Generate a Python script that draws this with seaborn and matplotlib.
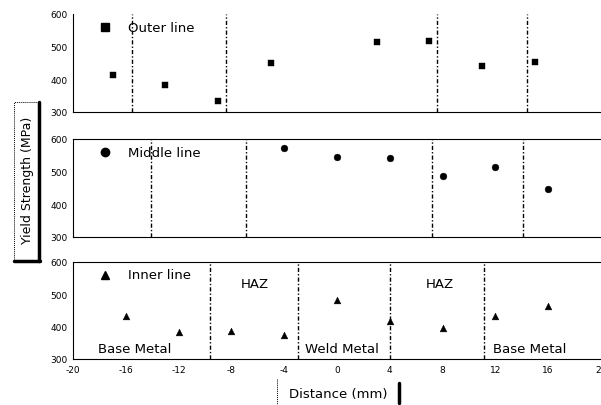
import matplotlib
matplotlib.use("Agg")
import matplotlib.pyplot as plt
import seaborn as sns
import pandas as pd
from matplotlib.lines import Line2D

sns.set_theme(style="white")
plt.rcParams['font.family'] = ['DejaVu Sans']
plt.rcParams['text.color'] = 'black'
plt.rcParams['xtick.color'] = 'black'
plt.rcParams['ytick.color'] = 'black'

# Data
outer_x = [-17, -13, -9, -5, 3, 7, 11, 15]
outer_y = [413, 383, 334, 450, 514, 517, 441, 453]
middle_x = [-4, 0, 4, 8, 12, 16]
middle_y = [572, 545, 542, 487, 514, 447]
inner_x = [-16, -12, -8, -4, 0, 4, 8, 12, 16]
inner_y = [432, 385, 388, 373, 482, 418, 397, 433, 464]

outer_bounds = [-15.5, -8.4, 7.6, 14.4]
middle_bounds = [-14.1, -6.9, 7.2, 14.1]
inner_bounds = [-9.6, -2.95, 4.0, 11.1]

series_names = ["Outer line", "Middle line", "Inner line"]
markers = ["s", "o", "^"]
x_ticks = [-20, -16, -12, -8, -4, 0, 4, 8, 12, 16, 20]
y_ticks = [300, 400, 500, 600]

region_labels = ["Base Metal", "HAZ", "Weld Metal", "HAZ", "Base Metal"]
region_x = [-15.3, -6.2, 0.4, 7.8, 14.6]
region_y = [334, 532, 334, 532, 334]

fig = plt.figure(figsize=(6.01, 4.06), dpi=100)
L, W = 73/601, 528/601
rects = [(L, 1-113/406, W, 98/406), (L, 1-238/406, W, 98/406), (L, 1-360/406, W, 97/406)]
xs = [outer_x, middle_x, inner_x]
ys = [outer_y, middle_y, inner_y]
bounds = [outer_bounds, middle_bounds, inner_bounds]

for i, r in enumerate(rects):
    ax = fig.add_axes(r)
    df = pd.DataFrame({"x": xs[i], "y": ys[i]})
    sns.scatterplot(data=df, x="x", y="y", marker=markers[i], color="black",
                    s=24, edgecolor="black", linewidth=0.3, ax=ax, legend=False)
    for b in bounds[i]:
        ax.axvline(b, color="black", lw=1.0, ls=(0, (3, 1.5, 1, 1.5)))
    ax.set_xlim(-20, 20)
    ax.set_ylim(300, 600)
    ax.set_yticks(y_ticks)
    ax.set_yticklabels([str(v) for v in y_ticks], fontsize=6.5)
    ax.set_xticks(x_ticks)
    ax.set_xlabel("")
    ax.set_ylabel("")
    ax.tick_params(axis="both", direction="out", length=2, width=0.6, pad=2, colors="black")
    if i < 2:
        ax.tick_params(axis="x", labelbottom=False)
    else:
        ax.set_xticklabels([str(v) for v in x_ticks], fontsize=6.5)
    for name, sp in ax.spines.items():
        sp.set_linestyle((0, (1, 1)))
        sp.set_linewidth(0.8)
        sp.set_color("black")
    ax.spines["right"].set_visible(False)
    if i == 0:
        ax.spines["top"].set_visible(False)
    ax.set_facecolor("white")
    # legend-like label
    ax.plot([-17.6], [560], marker=markers[i], color="black", ms=6, ls="none")
    ax.text(-15.8, 560, series_names[i], fontsize=9.5, va="center", ha="left")
    if i == 2:
        for t, rx, ry in zip(region_labels, region_x, region_y):
            ax.text(rx, ry, t, fontsize=9.5, ha="center", va="center")

# Y label box
fig.text(27/601, 1-180/406, "Yield Strength (MPa)", rotation=90, fontsize=9,
         ha="center", va="center")
fig.add_artist(Line2D([14/601, 14/601, 39/601], [1-262/406, 1-103/406, 1-103/406],
                      color="black", lw=0.7, ls=(0, (1, 1))))
fig.add_artist(Line2D([39/601, 39/601], [1-103/406, 1-262/406], color="black", lw=2.5))
fig.add_artist(Line2D([14/601, 40/601], [1-262/406, 1-262/406], color="black", lw=2.5))

# X label
fig.text(338/601, 1-395/406, "Distance (mm)", fontsize=9.5, ha="center", va="center")
fig.add_artist(Line2D([277/601, 277/601], [1-380/406, 1-406/406], color="black", lw=0.7, ls=(0, (1, 1))))
fig.add_artist(Line2D([399/601, 399/601], [1-384/406, 1-404/406], color="black", lw=2.5))

fig.savefig("out.png", dpi=100)
